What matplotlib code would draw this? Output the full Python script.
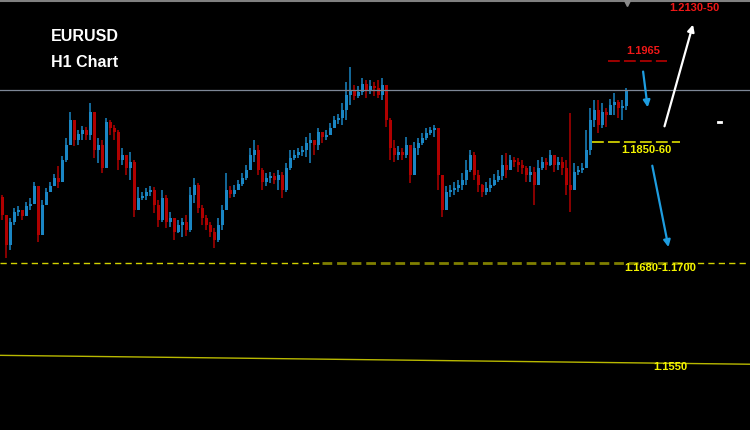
import numpy as np
import matplotlib
matplotlib.use('Agg')
import matplotlib.pyplot as plt

plt.rcParams['font.family'] = ['Liberation Sans', 'DejaVu Sans']
plt.rcParams['lines.scale_dashes'] = False

# EURUSD H1 candles
first_open = 1.1781
closes = [
    1.1756, 1.1716, 1.1747, 1.1761, 1.1763, 1.1755, 1.1769, 1.1771, 1.1796, 1.1729,
    1.1770, 1.1788, 1.1796, 1.1806, 1.1801, 1.1831, 1.1851, 1.1885, 1.1858, 1.1866,
    1.1871, 1.1864, 1.1896, 1.1844, 1.1851, 1.1820, 1.1882, 1.1874, 1.1869, 1.1831,
    1.1837, 1.1820, 1.1828, 1.1763, 1.1779, 1.1782, 1.1788, 1.1790, 1.1770, 1.1750,
    1.1779, 1.1747, 1.1752, 1.1734, 1.1743, 1.1747, 1.1736, 1.1783, 1.1797, 1.1766,
    1.1752, 1.1743, 1.1734, 1.1723, 1.1743, 1.1763, 1.1790, 1.1785, 1.1790, 1.1798,
    1.1806, 1.1817, 1.1837, 1.1844, 1.1817, 1.1801, 1.1806, 1.1809, 1.1804, 1.1810,
    1.1790, 1.1820, 1.1833, 1.1837, 1.1842, 1.1844, 1.1854, 1.1858, 1.1851, 1.1869,
    1.1862, 1.1864, 1.1874, 1.1885, 1.1887, 1.1898, 1.1918, 1.1925, 1.1917, 1.1922,
    1.1933, 1.1925, 1.1931, 1.1928, 1.1918, 1.1932, 1.1885, 1.1847, 1.1837, 1.1842,
    1.1837, 1.1851, 1.1810, 1.1847, 1.1854, 1.1860, 1.1867, 1.1871, 1.1874, 1.1810,
    1.1763, 1.1788, 1.1790, 1.1793, 1.1797, 1.1804, 1.1817, 1.1837, 1.1810, 1.1797,
    1.1788, 1.1793, 1.1797, 1.1804, 1.1809, 1.1824, 1.1817, 1.1831, 1.1828, 1.1824,
    1.1820, 1.1810, 1.1815, 1.1797, 1.1820, 1.1828, 1.1824, 1.1837, 1.1824, 1.1828,
    1.1820, 1.1797, 1.1790, 1.1815, 1.1817, 1.1820, 1.1844, 1.1885, 1.1898, 1.1878,
    1.1896, 1.1891, 1.1905, 1.1909, 1.1901, 1.1904, 1.1925]
highs = [
    1.1783, 1.1756, 1.1752, 1.1766, 1.1769, 1.1763, 1.1774, 1.1779, 1.1801, 1.1783,
    1.1777, 1.1793, 1.1801, 1.1812, 1.1823, 1.1836, 1.1860, 1.1896, 1.1877, 1.1871,
    1.1877, 1.1875, 1.1908, 1.1896, 1.1860, 1.1858, 1.1887, 1.1885, 1.1878, 1.1871,
    1.1847, 1.1837, 1.1842, 1.1831, 1.1794, 1.1788, 1.1793, 1.1796, 1.1794, 1.1777,
    1.1790, 1.1783, 1.1761, 1.1752, 1.1750, 1.1752, 1.1756, 1.1794, 1.1806, 1.1800,
    1.1770, 1.1756, 1.1747, 1.1739, 1.1752, 1.1770, 1.1813, 1.1796, 1.1797, 1.1804,
    1.1813, 1.1824, 1.1847, 1.1858, 1.1851, 1.1820, 1.1813, 1.1815, 1.1813, 1.1817,
    1.1815, 1.1827, 1.1844, 1.1844, 1.1847, 1.1850, 1.1862, 1.1867, 1.1858, 1.1874,
    1.1869, 1.1871, 1.1881, 1.1890, 1.1893, 1.1908, 1.1936, 1.1956, 1.1932, 1.1931,
    1.1941, 1.1939, 1.1939, 1.1936, 1.1939, 1.1941, 1.1932, 1.1887, 1.1858, 1.1850,
    1.1847, 1.1862, 1.1851, 1.1855, 1.1860, 1.1867, 1.1874, 1.1875, 1.1878, 1.1874,
    1.1804, 1.1796, 1.1797, 1.1801, 1.1804, 1.1813, 1.1831, 1.1844, 1.1842, 1.1817,
    1.1798, 1.1801, 1.1806, 1.1812, 1.1817, 1.1837, 1.1840, 1.1837, 1.1835, 1.1833,
    1.1831, 1.1823, 1.1823, 1.1821, 1.1831, 1.1835, 1.1833, 1.1844, 1.1833, 1.1835,
    1.1835, 1.1831, 1.1894, 1.1827, 1.1823, 1.1827, 1.1871, 1.1901, 1.1912, 1.1912,
    1.1908, 1.1901, 1.1913, 1.1921, 1.1912, 1.1912, 1.1928]
lows = [
    1.1750, 1.1698, 1.1709, 1.1743, 1.1755, 1.1750, 1.1761, 1.1763, 1.1777, 1.1720,
    1.1747, 1.1770, 1.1788, 1.1797, 1.1793, 1.1810, 1.1828, 1.1851, 1.1850, 1.1851,
    1.1858, 1.1858, 1.1858, 1.1833, 1.1827, 1.1813, 1.1820, 1.1864, 1.1858, 1.1817,
    1.1824, 1.1810, 1.1804, 1.1754, 1.1767, 1.1777, 1.1777, 1.1782, 1.1759, 1.1740,
    1.1747, 1.1739, 1.1740, 1.1723, 1.1732, 1.1727, 1.1728, 1.1734, 1.1773, 1.1759,
    1.1743, 1.1736, 1.1727, 1.1712, 1.1720, 1.1736, 1.1763, 1.1779, 1.1781, 1.1790,
    1.1796, 1.1804, 1.1817, 1.1828, 1.1810, 1.1790, 1.1796, 1.1800, 1.1798, 1.1790,
    1.1779, 1.1788, 1.1817, 1.1831, 1.1833, 1.1836, 1.1835, 1.1827, 1.1837, 1.1844,
    1.1854, 1.1858, 1.1864, 1.1875, 1.1879, 1.1878, 1.1885, 1.1905, 1.1912, 1.1914,
    1.1918, 1.1914, 1.1920, 1.1917, 1.1914, 1.1912, 1.1875, 1.1831, 1.1828, 1.1831,
    1.1831, 1.1833, 1.1800, 1.1824, 1.1837, 1.1851, 1.1858, 1.1864, 1.1862, 1.1790,
    1.1754, 1.1770, 1.1781, 1.1783, 1.1788, 1.1790, 1.1797, 1.1815, 1.1804, 1.1788,
    1.1781, 1.1783, 1.1788, 1.1796, 1.1801, 1.1804, 1.1806, 1.1820, 1.1821, 1.1815,
    1.1812, 1.1801, 1.1801, 1.1770, 1.1804, 1.1817, 1.1817, 1.1823, 1.1815, 1.1817,
    1.1810, 1.1783, 1.1761, 1.1790, 1.1810, 1.1813, 1.1824, 1.1837, 1.1875, 1.1867,
    1.1874, 1.1875, 1.1894, 1.1891, 1.1887, 1.1885, 1.1898]

# analysis levels drawn on the chart
level_top = 1.1965
level_mid = 1.1855
level_support = 1.1692
level_grey = 1.1925
trend_left, trend_right = 1.1567, 1.1555

closes = np.array(closes)
opens = np.array([first_open] + list(closes[:-1]))
highs = np.array(highs)
lows = np.array(lows)
idx = np.arange(len(closes))

up_col = '#1a86c4'
dn_col = '#b00000'
colors = np.where(closes >= opens, up_col, dn_col)

fig = plt.figure(figsize=(7.5, 4.3), dpi=100, facecolor='black')
ax = fig.add_axes([0, 0, 1, 1])
ax.set_facecolor('black')
ax.set_xlim(-0.5, 187)
ax.set_ylim(1.14662, 1.20467)
ax.axis('off')

body_lo = np.minimum(opens, closes)
body_hi = np.maximum(opens, closes)
ax.vlines(idx, np.minimum(lows, body_lo), np.maximum(highs, body_hi), colors=colors, lw=1.1)
ax.bar(idx, np.maximum(body_hi - body_lo, 0.00006), bottom=body_lo, width=0.75,
       color=colors, linewidth=0)

yt = ax.get_yaxis_transform()
# grey horizontal line and top border
ax.plot([0, 1], [level_grey, level_grey], transform=yt, color='#7d8797', lw=0.9)
ax.plot([0, 1], [0.997, 0.997], transform=ax.transAxes, color='#808080', lw=1.5)
ax.plot(627 / 750, 0.992, marker='v', ms=5, color='#8a8a8a', transform=ax.transAxes)

# red resistance
l, = ax.plot([0.811, 0.889], [level_top, level_top], transform=yt, color='#c80000', lw=1.1)
l.set_dashes((8.5, 3))
# yellow 1.1850-60
l, = ax.plot([0.789, 0.907], [level_mid, level_mid], transform=yt, color='#c0c000', lw=1.4)
l.set_dashes((8.5, 3))
# support 1.1680-1.1700
for x0, x1 in [(0, 0.429), (0.916, 1)]:
    l, = ax.plot([x0, x1], [level_support, level_support], transform=yt, color='#d2d200', lw=1.0)
    l.set_dashes((4.5, 3))
l, = ax.plot([0.429, 0.916], [level_support, level_support], transform=yt, color='#7f7f00', lw=2.0)
l.set_dashes((7, 3.5))
# slanted 1.1550 line
ax.plot([0, 1], [trend_left, trend_right], transform=yt, color='#b8b800', lw=1.0)

# arrows
ax.annotate('', xy=(0.864, 0.744), xytext=(0.857, 0.840), xycoords='axes fraction',
            arrowprops=dict(arrowstyle='-|>', color='#1e9de0', lw=1.6, mutation_scale=10))
ax.annotate('', xy=(0.892, 0.419), xytext=(0.869, 0.621), xycoords='axes fraction',
            arrowprops=dict(arrowstyle='-|>', color='#1e9de0', lw=1.6, mutation_scale=10))
ax.annotate('', xy=(0.925, 0.949), xytext=(0.885, 0.700), xycoords='axes fraction',
            arrowprops=dict(arrowstyle='-|>', color='white', lw=1.6, mutation_scale=10))
ax.plot([0.9567, 0.9607], [0.7163, 0.7163], transform=ax.transAxes, color='white', lw=2)

# texts
ax.text(0.1127, 0.914, 'EURUSD', transform=ax.transAxes, color='white', fontsize=11.5,
        fontweight='bold', ha='center', va='center')
ax.text(0.1127, 0.855, 'H1 Chart', transform=ax.transAxes, color='white', fontsize=11.5,
        fontweight='bold', ha='center', va='center')
lab = dict(transform=ax.transAxes, fontsize=8, fontweight='bold', ha='center', va='center')
ax.text(0.8573, 0.8814, '1.1965', color='#f01818', **lab)
ax.text(0.9253, 0.9814, '1.2130-50', color='#f01818', **lab)
ax.text(0.8613, 0.6512, '1.1850-60', color='#f5f500', **lab)
ax.text(0.880, 0.3767, '1.1680-1.1700', color='#f5f500', **lab)
ax.text(0.8933, 0.1465, '1.1550', color='#f5f500', **lab)

fig.savefig('out.png', dpi=100, facecolor='black')
